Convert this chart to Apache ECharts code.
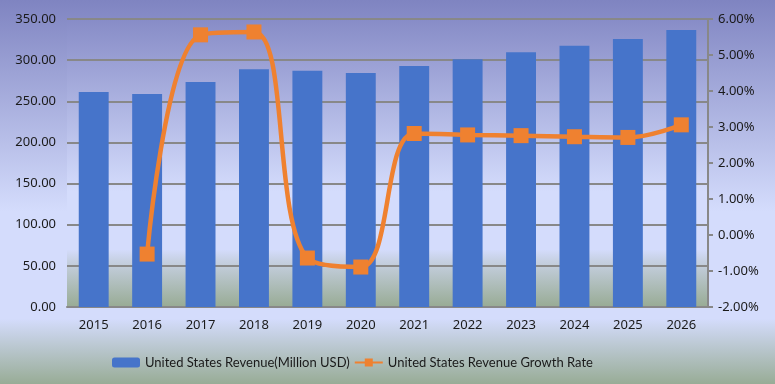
<!DOCTYPE html>
<html>
<head>
<meta charset="utf-8">
<script src="https://cdn.jsdelivr.net/npm/echarts@6/dist/echarts.min.js"></script>
<style>html,body{margin:0;padding:0;}#c{width:775px;height:384px;}</style>
</head>
<body>
<div id="c"></div>
<script>
const years = ['2015','2016','2017','2018','2019','2020','2021','2022','2023','2024','2025','2026'];
const revenue = [261.3, 259.0, 273.4, 289.0, 287.0, 284.3, 292.8, 301.2, 309.5, 317.6, 325.6, 336.6];
const growth = [null, -0.53, 5.56, 5.64, -0.64, -0.89, 2.82, 2.78, 2.76, 2.73, 2.71, 3.06];
const leftTicks = {min: 0, max: 350, interval: 50};
const rightTicks = {min: -2, max: 6, interval: 1};

const FONT = 'Noto Sans';
const chart = echarts.init(document.getElementById('c'));
chart.setOption({
  animation: false,
  backgroundColor: {type:'linear', x:0, y:0, x2:0, y2:1, colorStops:[
    {offset:0, color:'#7f84c1'},
    {offset:0.55, color:'#d4dcfc'},
    {offset:0.83, color:'#d4dcfc'},
    {offset:1, color:'#98ac96'}
  ]},
  textStyle: {fontFamily: FONT},
  grid: {left: 67, right: 67, top: 19, bottom: 77, show: true, borderWidth: 0,
    backgroundColor: {type:'linear', x:0, y:0, x2:0, y2:1, colorStops:[
      {offset:0, color:'#878cc7'},
      {offset:0.6, color:'#d4dcfc'},
      {offset:0.8, color:'#d4dcfc'},
      {offset:0.84, color:'#c6d0e2'},
      {offset:1, color:'#98ab94'}
    ]}
  },
  legend: {
    bottom: 10, left: 107, itemGap: 4, itemWidth: 28, itemHeight: 10,
    textStyle: {fontFamily: 'Lato', fontSize: 13, color: '#1a1a1a'},
    data: ['United States Revenue(Million USD)', 'United States Revenue Growth Rate']
  },
  xAxis: {
    type: 'category', data: years,
    axisLine: {lineStyle: {color: '#888888', width: 2}},
    axisTick: {show: false},
    axisLabel: {fontFamily: FONT, fontSize: 13, color: '#1a1a1a', margin: 12}
  },
  yAxis: [
    {type: 'value', min: leftTicks.min, max: leftTicks.max, interval: leftTicks.interval,
     axisLine: {show: false}, axisTick: {show: false},
     splitLine: {lineStyle: {color: '#888888', width: 2}},
     axisLabel: {fontFamily: FONT, fontSize: 13, color: '#1a1a1a', margin: 11,
       formatter: v => v.toFixed(2)}},
    {type: 'value', min: rightTicks.min, max: rightTicks.max, interval: rightTicks.interval,
     position: 'right',
     axisLine: {show: true, lineStyle: {color: '#888888', width: 2}},
     axisTick: {show: true, length: 5, lineStyle: {color: '#888888', width: 2}},
     splitLine: {show: false},
     axisLabel: {fontFamily: FONT, fontSize: 13, color: '#1a1a1a', margin: 10,
       formatter: v => v.toFixed(2) + '%'}}
  ],
  series: [
    {name: 'United States Revenue(Million USD)', type: 'bar', data: revenue,
     barCategoryGap: '44%', itemStyle: {color: '#4674ca'}},
    {name: 'United States Revenue Growth Rate', type: 'line', yAxisIndex: 1, data: growth,
     smooth: 0.4, symbol: 'rect', symbolSize: 15,
     lineStyle: {color: '#ef8130', width: 4.5}, itemStyle: {color: '#ef8130'}}
  ]
});
</script>
</body>
</html>
